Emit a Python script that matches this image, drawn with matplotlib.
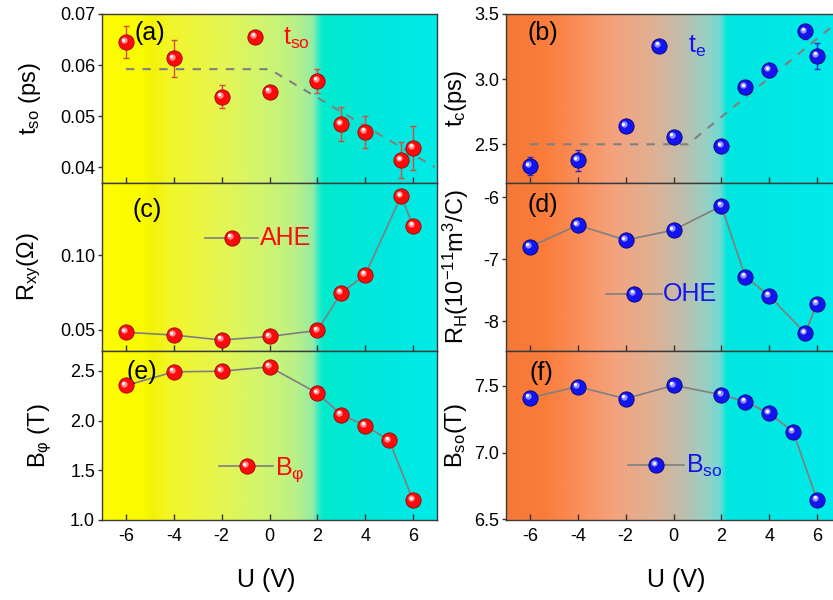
import numpy as np
import matplotlib
matplotlib.use('Agg')
import matplotlib.pyplot as plt
from matplotlib.transforms import offset_copy

plt.rcParams['font.family'] = ['Liberation Sans', 'DejaVu Sans']
plt.rcParams['mathtext.fontset'] = 'custom'
plt.rcParams['mathtext.rm'] = 'Liberation Sans'
plt.rcParams['mathtext.it'] = 'Liberation Sans:italic'
plt.rcParams['mathtext.bf'] = 'Liberation Sans:bold'
plt.rcParams['axes.unicode_minus'] = False

# gate voltage
u_top = [-6, -4, -2, 0, 2, 3, 4, 5.5, 6]
u_bot = [-6, -4, -2, 0, 2, 3, 4, 5, 6]

# (a) spin-orbit time
tso = [0.0645, 0.0613, 0.0538, 0.0548, 0.0569, 0.0484, 0.0469, 0.0414, 0.0438]
tso_err = [0.0032, 0.0036, 0.0022, 0.0010, 0.0023, 0.0033, 0.0032, 0.0035, 0.0043]
tso_fit_u = [-6, 0, 6.9]
tso_fit = [0.0592, 0.0592, 0.0400]

# (b) elastic time
te = [2.332, 2.378, 2.639, 2.559, 2.485, 2.938, 3.068, 3.367, 3.178]
te_err = [0.07, 0.08, 0.02, 0.02, 0.02, 0.04, 0.05, 0.06, 0.10]
te_fit_u = [-6, 0.6, 7]
te_fit = [2.50, 2.50, 3.46]

# (c) AHE, (d) OHE
rxy = [0.0483, 0.0464, 0.0431, 0.0455, 0.0495, 0.0748, 0.0869, 0.1399, 0.1199]
rh = [-6.80, -6.45, -6.69, -6.53, -6.14, -7.28, -7.59, -8.19, -7.72]

# (e), (f) fields
bphi = [2.353, 2.49, 2.497, 2.54, 2.276, 2.06, 1.95, 1.80, 1.20]
bso = [7.41, 7.493, 7.403, 7.503, 7.433, 7.38, 7.294, 7.155, 6.647]

RED = '#ff0a0a'
BLUE = '#1414ee'

# background gradients (position, rgb)
left_grad = [(0.00, (255, 255, 0)), (0.12, (250, 250, 0)), (0.15, (243, 243, 5)),
             (0.20, (242, 246, 40)), (0.35, (230, 245, 80)), (0.50, (205, 245, 115)),
             (0.58, (185, 240, 135)), (0.63, (150, 235, 165)), (0.645, (60, 235, 195)),
             (0.66, (0, 235, 205)), (0.80, (0, 232, 220)), (1.00, (0, 235, 232))]
right_grad = [(0.00, (245, 120, 55)), (0.12, (250, 125, 60)), (0.20, (250, 140, 85)),
              (0.32, (245, 162, 125)), (0.45, (220, 178, 150)), (0.52, (195, 188, 170)),
              (0.60, (150, 208, 198)), (0.64, (110, 218, 210)), (0.66, (0, 230, 225)),
              (1.00, (0, 235, 235))]


def gradient(ax, stops):
    xs = np.linspace(0, 1, 400)
    pos = [s[0] for s in stops]
    img = np.zeros((1, len(xs), 3))
    for k in range(3):
        img[0, :, k] = np.interp(xs, pos, [s[1][k] for s in stops]) / 255.0
    ax.imshow(img, extent=[0, 1, 0, 1], transform=ax.transAxes, aspect='auto',
              zorder=0, interpolation='bilinear')


def spheres(ax, x, y, color, transform=None, clip=True):
    fig = ax.figure
    tr = ax.transData if transform is None else transform
    edge = '#9a0000' if color == RED else '#00007a'
    light = '#ff9090' if color == RED else '#9090ff'
    ax.plot(x, y, 'o', ms=11, mfc=color, mec=edge, mew=0.6, transform=tr, zorder=5, clip_on=clip)
    t1 = offset_copy(tr, fig=fig, x=-1.3, y=1.3, units='points')
    ax.plot(x, y, 'o', ms=4.5, mfc=light, mec='none', transform=t1, zorder=6, clip_on=clip)
    t2 = offset_copy(tr, fig=fig, x=-1.8, y=1.8, units='points')
    ax.plot(x, y, 'o', ms=2.2, mfc='white', mec='none', transform=t2, zorder=7, clip_on=clip)


def key(ax, fx, fy, lx0, lx1, color, label, tx, ty, va='center'):
    if lx0 is not None:
        ax.plot([lx0, lx1], [fy, fy], color='#7f7f7f', lw=1.2, transform=ax.transAxes, zorder=4)
    spheres(ax, [fx], [fy], color, transform=ax.transAxes, clip=False)
    ax.text(tx, ty, label, color=color, fontsize=18, transform=ax.transAxes, va=va, ha='left')


fig = plt.figure(figsize=(8.33, 6.0), dpi=100)
W, H = 833.0, 600.0
col_x = [102 / W, 506 / W]
col_w = 335 / W
rows = [(14, 183), (183, 351), (351, 520)]
axes = {}
names = [['a', 'b'], ['c', 'd'], ['e', 'f']]
for r, (top, bot) in enumerate(rows):
    for c in range(2):
        ax = fig.add_axes([col_x[c], 1 - bot / H, col_w, (bot - top) / H])
        gradient(ax, left_grad if c == 0 else right_grad)
        ax.set_xlim(-7, 7)
        ax.set_xticks([-6, -4, -2, 0, 2, 4, 6])
        ax.tick_params(axis='x', direction='in', length=4, width=1, labelsize=13, pad=6, colors='#333333', labelcolor='black')
        ax.tick_params(axis='y', direction='out', length=3, width=1, labelsize=13, pad=2, colors='#333333', labelcolor='black')
        if r < 2:
            ax.tick_params(axis='x', labelbottom=False)
        for s in ax.spines.values():
            s.set_color('#3a3a3a')
            s.set_linewidth(1.0)
        axes[names[r][c]] = ax

# (a)
ax = axes['a']
ax.set_ylim(0.0369, 0.07)
ax.set_yticks([0.04, 0.05, 0.06, 0.07])
ax.set_yticklabels(['0.04', '0.05', '0.06', '0.07'])
ax.plot(tso_fit_u, tso_fit, '--', color='#808080', lw=1.5, dashes=(4, 4), zorder=3)
ax.errorbar(u_top, tso, yerr=tso_err, fmt='none', ecolor='#d0503a', elinewidth=1, capsize=2.5, zorder=4)
spheres(ax, u_top, tso, RED)
key(ax, 0.457, 0.866, None, None, RED, r'$\mathregular{t_{so}}$', 0.540, 0.817, va='baseline')
ax.text(0.0985, 0.888, '(a)', fontsize=18, transform=ax.transAxes, va='center')

# (b)
ax = axes['b']
ax.set_ylim(2.203, 3.5)
ax.set_yticks([2.5, 3.0, 3.5])
ax.set_yticklabels(['2.5', '3.0', '3.5'])
ax.plot(te_fit_u, te_fit, '--', color='#808080', lw=1.5, dashes=(4, 4), zorder=3)
ax.errorbar(u_top, te, yerr=te_err, fmt='none', ecolor='#2a2ad0', elinewidth=1, capsize=2.5, zorder=4)
spheres(ax, u_top, te, BLUE)
key(ax, 0.4576, 0.812, None, None, BLUE, r'$\mathregular{t_e}$', 0.543, 0.769, va='baseline')
ax.text(0.063, 0.888, '(b)', fontsize=18, transform=ax.transAxes, va='center')

# (c)
ax = axes['c']
ax.set_ylim(0.0357, 0.1487)
ax.set_yticks([0.05, 0.10])
ax.set_yticklabels(['0.05', '0.10'])
ax.plot(u_top, rxy, '-', color='#7f7f7f', lw=1.2, zorder=3)
spheres(ax, u_top, rxy, RED)
key(ax, 0.388, 0.674, 0.307, 0.466, RED, 'AHE', 0.4716, 0.674)
ax.text(0.0925, 0.839, '(c)', fontsize=18, transform=ax.transAxes, va='center')

# (d)
ax = axes['d']
ax.set_ylim(-8.48, -5.77)
ax.set_yticks([-8, -7, -6])
ax.set_yticklabels(['-8', '-7', '-6'])
ax.plot(u_top, rh, '-', color='#7f7f7f', lw=1.2, zorder=3)
spheres(ax, u_top, rh, BLUE)
key(ax, 0.383, 0.341, 0.2985, 0.4648, BLUE, 'OHE', 0.4687, 0.341)
ax.text(0.063, 0.869, '(d)', fontsize=18, transform=ax.transAxes, va='center')

# (e)
ax = axes['e']
ax.set_ylim(1.0, 2.70)
ax.set_yticks([1.0, 1.5, 2.0, 2.5])
ax.set_yticklabels(['1.0', '1.5', '2.0', '2.5'])
ax.plot(u_bot, bphi, '-', color='#7f7f7f', lw=1.2, zorder=3)
spheres(ax, u_bot, bphi, RED)
key(ax, 0.432, 0.3195, 0.349, 0.510, RED, r'$\mathregular{B_{φ}}$', 0.516, 0.266, va='baseline')
ax.text(0.0746, 0.8775, '(e)', fontsize=18, transform=ax.transAxes, va='center')

# (f)
ax = axes['f']
ax.set_ylim(6.495, 7.76)
ax.set_yticks([6.5, 7.0, 7.5])
ax.set_yticklabels(['6.5', '7.0', '7.5'])
ax.plot(u_bot, bso, '-', color='#7f7f7f', lw=1.2, zorder=3)
spheres(ax, u_bot, bso, BLUE)
key(ax, 0.448, 0.3237, 0.365, 0.531, BLUE, r'$\mathregular{B_{so}}$', 0.537, 0.278, va='baseline')
ax.text(0.069, 0.87, '(f)', fontsize=18, transform=ax.transAxes, va='center')

# y labels
ylabels = [(30, 98.5, r'$\mathregular{t_{so}}$ (ps)'),
           (29, 267, r'$\mathregular{R_{xy}}$(Ω)'),
           (40, 435.5, r'$\mathregular{B_{φ}}$ (T)'),
           (456, 98.5, r'$\mathregular{t_c}$(ps)'),
           (456, 267, r'$\mathregular{R_H(10^{-11}m^3/C)}$'),
           (456, 435.5, r'$\mathregular{B_{so}}$(T)')]
for x, y, s in ylabels:
    fig.text(x / W, 1 - y / H, s, rotation=90, fontsize=17, ha='center', va='center')

# x labels
fig.text(266.5 / W, 1 - 580 / H, 'U (V)', fontsize=18, ha='center', va='center')
fig.text(676 / W, 1 - 580 / H, 'U (V)', fontsize=18, ha='center', va='center')

fig.savefig('out.png', dpi=100)
